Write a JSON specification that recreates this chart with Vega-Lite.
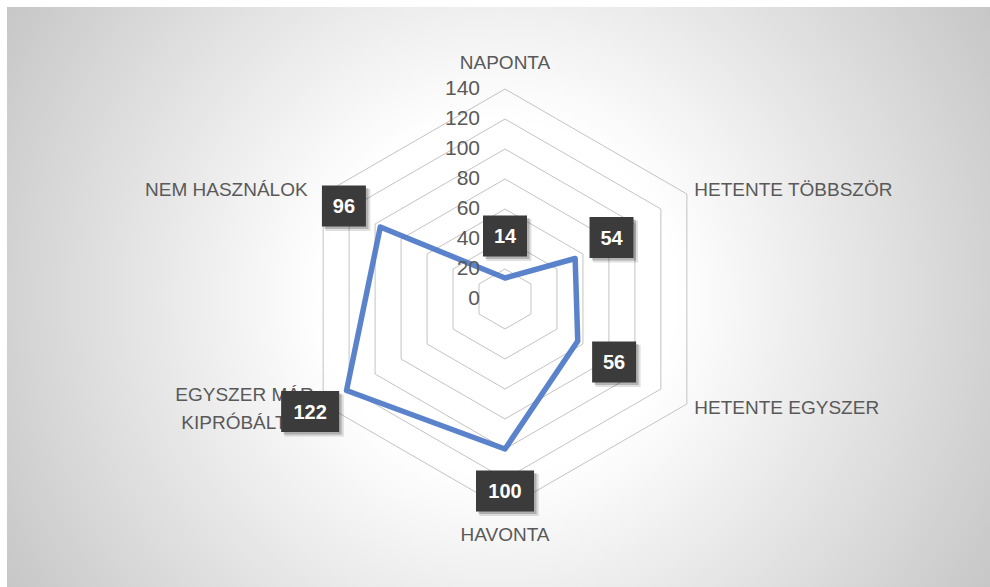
{
  "$schema": "https://vega.github.io/schema/vega-lite/v6.json",
  "width": 983,
  "height": 580,
  "autosize": {"type": "none"},
  "padding": {"left": 7, "top": 7, "right": 0, "bottom": 0},
  "background": "#ffffff",
  "view": {
    "stroke": null,
    "fill": {
      "gradient": "radial",
      "x1": 0.5, "y1": 0.5, "r1": 0,
      "x2": 0.5, "y2": 0.5, "r2": 0.6,
      "stops": [
        {"offset": 0, "color": "#ffffff"},
        {"offset": 0.3, "color": "#ffffff"},
        {"offset": 1, "color": "#c4c4c4"}
      ]
    }
  },
  "config": {"text": {"font": "Liberation Sans"}},
  "datasets": {
    "answers": [
      {"cat": "NAPONTA", "i": 0, "value": 14},
      {"cat": "HETENTE TÖBBSZÖR", "i": 1, "value": 54},
      {"cat": "HETENTE EGYSZER", "i": 2, "value": 56},
      {"cat": "HAVONTA", "i": 3, "value": 100},
      {"cat": "EGYSZER MÁR\nKIPRÓBÁLTAM", "i": 4, "value": 122},
      {"cat": "NEM HASZNÁLOK", "i": 5, "value": 96}
    ],
    "ticks": [
      {"v": 0}, {"v": 20}, {"v": 40}, {"v": 60}, {"v": 80}, {"v": 100}, {"v": 120}, {"v": 140}
    ]
  },
  "layer": [
    {
      "data": {"name": "ticks"},
      "transform": [{"filter": "datum.v > 0"}],
      "mark": {
        "type": "point",
        "shape": "M0,-1L0.8660254,-0.5L0.8660254,0.5L0,1L-0.8660254,0.5L-0.8660254,-0.5Z",
        "filled": false,
        "stroke": "#c3c3c3",
        "strokeWidth": 1,
        "opacity": 1
      },
      "encoding": {
        "x": {"datum": 0, "type": "quantitative", "scale": {"domain": [-332, 323.333], "nice": false, "zero": false}, "axis": null},
        "y": {"datum": 0, "type": "quantitative", "scale": {"domain": [-192, 194.667], "nice": false, "zero": false}, "axis": null},
        "size": {"field": "v", "type": "quantitative", "scale": {"type": "pow", "exponent": 2, "domain": [0, 140], "range": [0, 176400]}, "legend": null}
      }
    },
    {
      "data": {"name": "answers"},
      "transform": [
        {"calculate": "PI/2 - datum.i*PI/3", "as": "a"},
        {"calculate": "datum.value*cos(datum.a)", "as": "px"},
        {"calculate": "datum.value*sin(datum.a)", "as": "py"}
      ],
      "mark": {"type": "line", "interpolate": "linear-closed", "stroke": "#4472C4", "strokeWidth": 5.5, "strokeOpacity": 0.88, "strokeJoin": "round"},
      "encoding": {
        "x": {"field": "px", "type": "quantitative", "scale": {"domain": [-332, 323.333], "nice": false, "zero": false}, "axis": null},
        "y": {"field": "py", "type": "quantitative", "scale": {"domain": [-192, 194.667], "nice": false, "zero": false}, "axis": null},
        "order": {"field": "i", "type": "quantitative"}
      }
    },
    {
      "data": {"name": "ticks"},
      "mark": {"type": "text", "align": "right", "baseline": "middle", "dx": -25, "fontSize": 21, "color": "#595959"},
      "encoding": {
        "x": {"datum": 0, "type": "quantitative", "scale": {"domain": [-332, 323.333], "nice": false, "zero": false}, "axis": null},
        "y": {"field": "v", "type": "quantitative", "scale": {"domain": [-192, 194.667], "nice": false, "zero": false}, "axis": null},
        "text": {"field": "v", "type": "quantitative"}
      }
    },
    {
      "data": {"name": "answers"},
      "transform": [
        {"calculate": "PI/2 - datum.i*PI/3", "as": "a"},
        {"calculate": "145*cos(datum.a)", "as": "cx"},
        {"calculate": "145*sin(datum.a)", "as": "cy"}
      ],
      "encoding": {
        "x": {"field": "cx", "type": "quantitative", "scale": {"domain": [-332, 323.333], "nice": false, "zero": false}, "axis": null},
        "y": {"field": "cy", "type": "quantitative", "scale": {"domain": [-192, 194.667], "nice": false, "zero": false}, "axis": null},
        "text": {"field": "cat", "type": "nominal"}
      },
      "layer": [
        {
          "transform": [{"filter": "datum.i == 0"}],
          "mark": {"type": "text", "align": "center", "baseline": "middle", "dy": -18.5, "fontSize": 19, "color": "#595959"}
        },
        {
          "transform": [{"filter": "datum.i == 3"}],
          "mark": {"type": "text", "align": "center", "baseline": "middle", "dy": 18.5, "fontSize": 19, "color": "#595959"}
        },
        {
          "transform": [{"filter": "datum.i == 1 || datum.i == 2"}],
          "mark": {"type": "text", "align": "left", "baseline": "middle", "dx": 1, "fontSize": 19, "color": "#595959"}
        },
        {
          "transform": [{"filter": "datum.i == 5"}],
          "mark": {"type": "text", "align": "right", "baseline": "middle", "dx": -9, "fontSize": 19, "color": "#595959"}
        },
        {
          "transform": [{"filter": "datum.i == 4"}],
          "mark": {"type": "text", "align": "right", "baseline": "middle", "dx": -3, "dy": -13, "fontSize": 19, "color": "#595959", "lineBreak": "\n", "lineHeight": 28}
        }
      ]
    },
    {
      "data": {"name": "answers"},
      "transform": [
        {"calculate": "PI/2 - datum.i*PI/3", "as": "a"},
        {"calculate": "(datum.value + 28)*cos(datum.a)", "as": "lx"},
        {"calculate": "(datum.value + 28)*sin(datum.a)", "as": "ly"}
      ],
      "encoding": {
        "x": {"field": "lx", "type": "quantitative", "scale": {"domain": [-332, 323.333], "nice": false, "zero": false}, "axis": null},
        "y": {"field": "ly", "type": "quantitative", "scale": {"domain": [-192, 194.667], "nice": false, "zero": false}, "axis": null}
      },
      "layer": [
        {
          "mark": {"type": "point", "filled": true, "size": 1760, "xOffset": 4, "yOffset": 4, "color": "#000000", "opacity": 0.12, "strokeWidth": 0},
          "encoding": {
            "shape": {"condition": {"test": "datum.value >= 100", "value": "M-1.415,-1H1.415V1H-1.415Z"}, "value": "M-1.073,-1H1.073V1H-1.073Z"}
          }
        },
        {
          "mark": {"type": "point", "filled": true, "size": 1681, "xOffset": 2.5, "yOffset": 2.5, "color": "#000000", "opacity": 0.2, "strokeWidth": 0},
          "encoding": {
            "shape": {"condition": {"test": "datum.value >= 100", "value": "M-1.415,-1H1.415V1H-1.415Z"}, "value": "M-1.073,-1H1.073V1H-1.073Z"}
          }
        },
        {
          "mark": {"type": "point", "filled": true, "size": 1681, "color": "#3b3b3b", "opacity": 1, "strokeWidth": 0},
          "encoding": {
            "shape": {"condition": {"test": "datum.value >= 100", "value": "M-1.415,-1H1.415V1H-1.415Z"}, "value": "M-1.073,-1H1.073V1H-1.073Z"}
          }
        },
        {
          "mark": {"type": "text", "align": "center", "baseline": "middle", "fontSize": 20, "fontWeight": "bold", "color": "#ffffff", "dy": 1},
          "encoding": {
            "text": {"field": "value", "type": "quantitative"}
          }
        }
      ]
    }
  ]
}
